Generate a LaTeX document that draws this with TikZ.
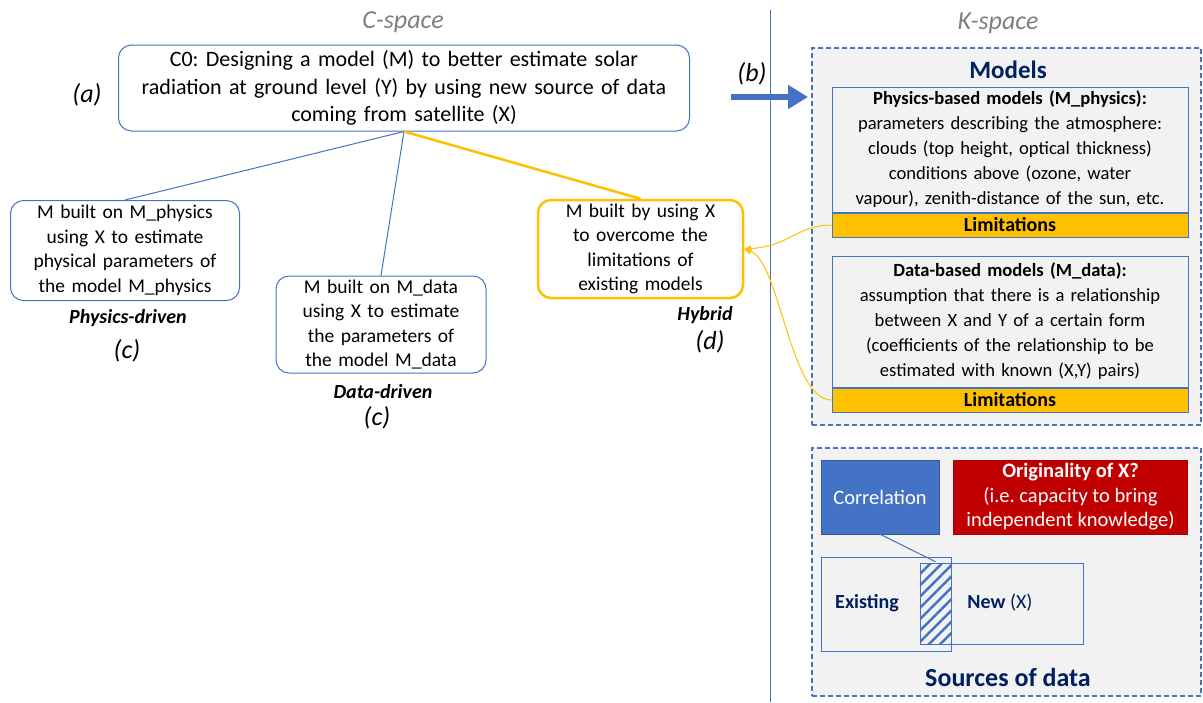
\documentclass[tikz,border=0pt]{standalone}
\usepackage{fontspec}
\setmainfont{Carlito}
\frenchspacing
\usetikzlibrary{positioning, calc}
\usetikzlibrary{arrows.meta, patterns.meta}

\definecolor{ablue}{HTML}{4472C4}
\definecolor{ayellow}{HTML}{FFC000}
\definecolor{navy}{HTML}{002060}
\definecolor{ared}{HTML}{C00000}
\definecolor{paneback}{HTML}{F2F2F2}
\definecolor{titlegray}{HTML}{7F7F7F}

\begin{document}
\begin{tikzpicture}[x=1pt, y=-1pt,
    cbox/.style={draw=ablue, line width=1pt, rounded corners=13pt, align=center, inner sep=0pt, font=\fontsize{19.5}{24.5}\selectfont},
    tag/.style={font=\fontsize{26}{28}\selectfont\itshape},
    kind/.style={font=\fontsize{20}{22}\selectfont\bfseries\itshape},
    pane/.style={draw=ablue, line width=1.1pt, dash pattern=on 5pt off 3pt, fill=paneback, inner sep=0pt},
    modbox/.style={draw=ablue, line width=1pt, align=center, inner sep=0pt, minimum width=356, text width=356, font=\fontsize{18.6}{25}\selectfont},
    limbar/.style={draw=ablue, fill=ayellow, line width=1pt, inner sep=0pt, minimum width=356, minimum height=24, font=\fontsize{20}{22}\selectfont\bfseries},
    limlink/.style={ayellow, line width=1pt, -{Triangle[length=7pt,width=6pt]}},
    srcbox/.style={draw=ablue, line width=1pt, inner sep=0pt},
    srclbl/.style={font=\fontsize{20}{22}\selectfont, text=navy},
  ]
  \useasboundingbox (0,0) rectangle (1203,702);

  % C-space
  \node[font=\fontsize{26}{28}\selectfont\itshape, text=titlegray] (ctitle) at (403,22) {C-space};
  \node[cbox, font=\fontsize{22}{27.5}\selectfont, minimum width=571, minimum height=86, text width=565] (c0) at (404,88)
    {C0: Designing a model (M) to better estimate solar\\ radiation at ground level (Y) by using new source of data\\ coming from satellite (X)};
  \node[tag] (c0tag) at (87,95) {(a)};

  \node[cbox, minimum width=229, minimum height=100, text width=225] (mphys) at (125,250.5)
    {M built on M\_physics\\ using X to estimate\\ physical parameters of\\ the model M\_physics};
  \node[cbox, minimum width=210, minimum height=97, text width=205] (mdata) at (381,324.5)
    {M built on M\_data\\ using X to estimate\\ the parameters of\\ the model M\_data};
  \node[cbox, draw=ayellow, line width=2.5pt, minimum width=205, minimum height=98, text width=200] (mhyb) at (640.5,249)
    {M built by using X\\ to overcome the\\ limitations of\\ existing models};

  \draw[ablue, line width=1pt] (c0.south) -- (mphys.north);
  \draw[ablue, line width=1pt] (c0.south) -- (mdata.north);
  \draw[ayellow, line width=2.5pt] (c0.south) -- (mhyb.north);

  \node[kind] (physkind) at (128,318) {Physics-driven};
  \node[tag] (phystag) at (127,351) {(c)};
  \node[kind] (datakind) at (383,392) {Data-driven};
  \node[tag] (datatag) at (377,418) {(c)};
  \node[kind] (hybkind) at (705,315) {Hybrid};
  \node[tag] (hybtag) at (710,342) {(d)};

  % separator
  \draw[ablue, line width=1pt] (770,10) -- (770,702);

  % K-space
  \node[font=\fontsize{26}{28}\selectfont\itshape, text=titlegray] (ktitle) at (998,23) {K-space};
  \node[pane, minimum width=389, minimum height=377] (models) at (1006.5,236.5) {};
  \node[pane, minimum width=389, minimum height=248] (sources) at (1006.5,572) {};

  \node[tag] (btag) at (752,74) {(b)};
  \coordinate (bfrom) at (731,97);
  \coordinate (bto) at (808,97);
  \draw[ablue, line width=6.5pt, -{Triangle[length=20pt,width=23pt]}] (bfrom) -- (bto);

  \node[font=\fontsize{25}{28}\selectfont\bfseries, text=navy] (modtitle) at (1008,70) {Models};
  \node[modbox, minimum height=125] (physmod) at (1010,149.5)
    {\textbf{Physics-based models (M\_physics):}\\ parameters describing the atmosphere:\\ clouds (top height, optical thickness)\\ conditions above (ozone, water\\ vapour), zenith-distance of the sun, etc.};
  \node[limbar, below=0pt of physmod] (physlim) {Limitations};
  \node[modbox, minimum height=131] (datamod) at (1010,321.5)
    {\textbf{Data-based models (M\_data):}\\ assumption that there is a relationship\\ between X and Y of a certain form\\ (coefficients of the relationship to be\\ estimated with known (X,Y) pairs)};
  \node[limbar, below=0pt of datamod] (datalim) {Limitations};

  \draw[limlink] (physlim.west) .. controls (795,226) and (790,246) .. (mhyb.east);
  \draw[limlink] (datalim.west) .. controls (790,400) and (780,262) .. (mhyb.east);

  % sources of data
  \node[fill=ablue, draw=ablue!80!black, minimum width=118, minimum height=74, inner sep=0pt, text=white, font=\fontsize{20.5}{24}\selectfont] (corr) at (880,497) {Correlation};
  \node[fill=ared, draw=ared!90!black, minimum width=234, minimum height=74, inner sep=0pt, align=center, text=white, font=\fontsize{20.5}{24.5}\selectfont] (orig) at (1070.5,497)
    {\textbf{Originality of X?}\\ (i.e. capacity to bring\\ independent knowledge)};
  \node[srcbox, minimum width=163, minimum height=81] (newsrc) at (1001.5,603.5) {};
  \node[srcbox, minimum width=130, minimum height=94] (exist) at (886,604) {};
  \node[srcbox, pattern={Lines[angle=45,distance=8pt,line width=2.5pt]}, pattern color=ablue, minimum width=31, minimum height=81] (overlap) at (935.5,603.5) {};
  \node[srclbl, font=\fontsize{20}{22}\selectfont\bfseries] (existlbl) at (867,603) {Existing};
  \node[srclbl] (newlbl) at (1000,603) {\textbf{New} (X)};
  \draw[ablue, line width=1pt] (corr.south) -- (overlap.north);
  \node[font=\fontsize{26}{28}\selectfont\bfseries, text=navy] (srctitle) at (1008,677) {Sources of data};
\end{tikzpicture}
\end{document}
